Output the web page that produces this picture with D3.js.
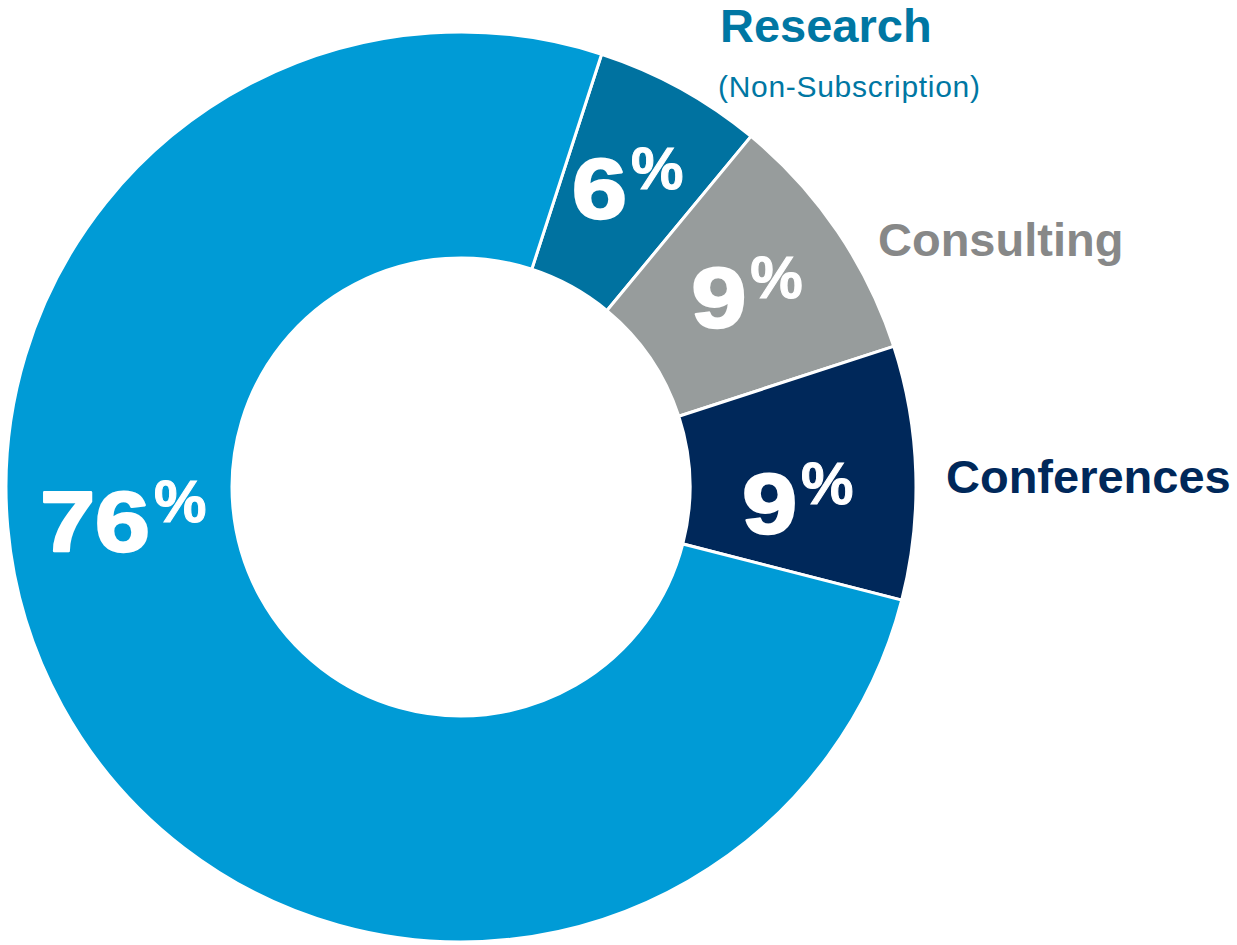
<!DOCTYPE html>
<html>
<head>
<meta charset="utf-8">
<script src="https://cdn.jsdelivr.net/npm/d3@7"></script>
<style>
  html, body { margin: 0; padding: 0; background: #ffffff; }
  svg { display: block; }
  text { font-family: "Liberation Sans", Arial, Helvetica, sans-serif; }
</style>
</head>
<body>
<svg id="chart" width="1237" height="945"></svg>
<script>
// Revenue mix by segment (percent of total)
const categories = ["Research (Non-Subscription)", "Consulting", "Conferences", "Research"];
const values = [6, 9, 9, 76];
const sliceColors = ["#0072a0", "#979c9c", "#00285a", "#009bd6"];
const titles = ["Research", "Consulting", "Conferences", null];
const subtitles = ["(Non-Subscription)", null, null, null];
const titleColors = ["#0077a3", "#878888", "#00285a", null];

const width = 1237, height = 945;
const cx = 461, cy = 487;
const outerR = 455, innerR = 229;

const svg = d3.select("#chart");
const g = svg.append("g").attr("transform", `translate(${cx},${cy})`);

const pie = d3.pie()
  .value(d => d.value)
  .sort(null)
  .startAngle(18 * Math.PI / 180)
  .endAngle((18 + 360) * Math.PI / 180);

const data = categories.map((c, i) => ({
  category: c, value: values[i], color: sliceColors[i],
  title: titles[i], subtitle: subtitles[i], titleColor: titleColors[i]
}));
const arcs = pie(data);

const arc = d3.arc().innerRadius(innerR).outerRadius(outerR);

g.selectAll("path.slice")
  .data(arcs)
  .join("path")
  .attr("class", "slice")
  .attr("d", arc)
  .attr("fill", d => d.data.color)
  .attr("stroke", "#ffffff")
  .attr("stroke-width", 3)
  .attr("stroke-linejoin", "miter");

// Percentage labels inside slices: a widened number with a raised percent sign
const numSize = 85, pctSize = 59, numScaleX = 1.16, pctGap = 4;
const labelR = 346;
arcs.forEach((d, i) => {
  let a = (d.startAngle + d.endAngle) / 2;
  let r = labelR;
  if (d.data.value > 50) { a = 265 * Math.PI / 180; r = 339; }
  if (i === 2) { a = 92 * Math.PI / 180; r = 337; }
  const lx = Math.sin(a) * r;
  const ly = -Math.cos(a) * r;

  const lg = g.append("g").attr("transform", `translate(${lx},${ly})`);
  const num = lg.append("text")
    .attr("font-size", numSize)
    .attr("font-weight", "bold")
    .attr("fill", "#ffffff")
    .attr("stroke", "#ffffff")
    .attr("stroke-width", 2.5)
    .attr("stroke-linejoin", "round")
    .text(d.data.value);
  const pct = lg.append("text")
    .attr("font-size", pctSize)
    .attr("font-weight", "bold")
    .attr("fill", "#ffffff")
    .attr("stroke", "#ffffff")
    .attr("stroke-width", 1)
    .text("%");

  const wN = num.node().getComputedTextLength() * numScaleX;
  const wP = pct.node().getComputedTextLength();
  const total = wN + pctGap + wP;
  const base = 34;
  num.attr("transform", `translate(${-total / 2},${base}) scale(${numScaleX},1)`);
  pct.attr("transform", `translate(${-total / 2 + wN + pctGap},${base - 29})`);
});

// Category names beside the ring
const titlePos = [
  { x: 720, y: 42, anchor: "start" },
  { x: 878, y: 256, anchor: "start" },
  { x: 946, y: 493, anchor: "start" }
];
arcs.forEach((d, i) => {
  if (!d.data.title) return;
  const p = titlePos[i];
  svg.append("text")
    .attr("x", p.x).attr("y", p.y)
    .attr("text-anchor", p.anchor)
    .attr("font-size", 47)
    .attr("font-weight", "bold")
    .attr("fill", d.data.titleColor)
    .text(d.data.title);
  if (d.data.subtitle) {
    svg.append("text")
      .attr("x", p.x - 2).attr("y", p.y + 55)
      .attr("font-size", 30)
      .attr("letter-spacing", 0.7)
      .attr("fill", d.data.titleColor)
      .text(d.data.subtitle);
  }
});
</script>
</body>
</html>
